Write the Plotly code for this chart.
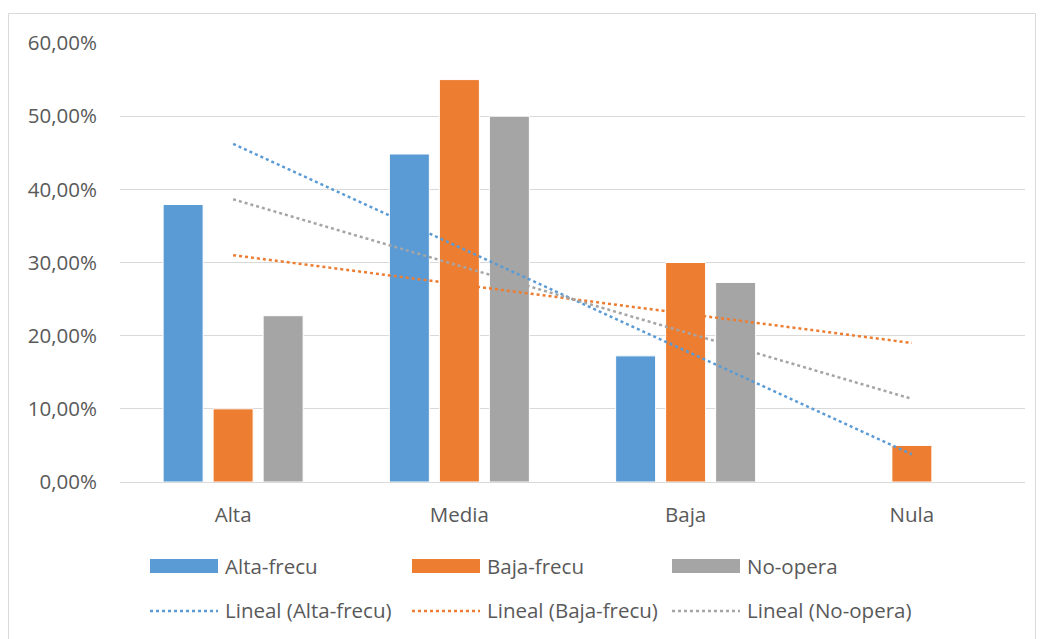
import numpy as np
import plotly.graph_objects as go

# Categories and series (fractions)
categories = ["Alta", "Media", "Baja", "Nula"]
alta_frecu = [0.3793, 0.4483, 0.1724, 0.0]
baja_frecu = [0.10, 0.55, 0.30, 0.05]
no_opera = [0.2273, 0.50, 0.2727, 0.0]
series_names = ["Alta-frecu", "Baja-frecu", "No-opera"]
colors = ["#5B9BD5", "#ED7D31", "#A5A5A5"]
y_ticks = [0, 0.1, 0.2, 0.3, 0.4, 0.5, 0.6]

W, H = 1041, 639
L, R, T, B = 120, 16, 43, 157
FONT = "'Open Sans', sans-serif"
FS = 20.5
TXT = "#595959"

fig = go.Figure()
series = [alta_frecu, baja_frecu, no_opera]
for name, vals, col in zip(series_names, series, colors):
    fig.add_trace(go.Bar(
        x=categories, y=vals, name=name,
        marker=dict(color=col, line=dict(color="white", width=1)),
        showlegend=False,
    ))

# Linear trendlines fitted over category index 1..n
idx = np.arange(1, len(categories) + 1)
for name, vals, col in zip(series_names, series, colors):
    slope, icpt = np.polyfit(idx, vals, 1)
    fig.add_trace(go.Scatter(
        x=categories, y=slope * idx + icpt, mode="lines",
        name=f"Lineal ({name})",
        line=dict(color=col, width=2.5, dash="dot"),
        showlegend=False,
    ))

fig.update_layout(
    width=W, height=H,
    margin=dict(l=L, r=R, t=T, b=B, autoexpand=False),
    paper_bgcolor="white", plot_bgcolor="white",
    separators=",.",
    barmode="group", bargap=0.337, bargroupgap=0.2,
    font=dict(family=FONT, size=FS, color=TXT),
)
fig.update_yaxes(
    range=[0, 0.6], tickvals=y_ticks, tickformat=".2%",
    showgrid=True, gridcolor="#D9D9D9", gridwidth=1,
    zeroline=True, zerolinecolor="#D9D9D9", zerolinewidth=1,
    showline=False, ticks="", ticklabelstandoff=22,
    tickfont=dict(family=FONT, size=FS, color=TXT),
)
fig.update_xaxes(
    showgrid=False, showline=False, ticks="", ticklabelstandoff=18,
    tickfont=dict(family=FONT, size=FS, color=TXT),
)

# Pixel -> paper helpers for the legend block and chart frame
def px(xp):
    return (xp - L) / (W - L - R)

def py(yp):
    return (H - B - yp) / (H - T - B)

shapes = [dict(type="rect", xref="paper", yref="paper",
               x0=px(8.5), x1=px(1035.5), y0=py(700), y1=py(13.5),
               line=dict(color="#D9D9D9", width=1), fillcolor="rgba(0,0,0,0)",
               layer="below")]
annotations = []
starts = [150, 412, 672]
for i, (name, col) in enumerate(zip(series_names, colors)):
    x0 = starts[i]
    shapes.append(dict(type="rect", xref="paper", yref="paper",
                       x0=px(x0), x1=px(x0 + 68), y0=py(573), y1=py(559),
                       fillcolor=col, line=dict(width=0)))
    annotations.append(dict(xref="paper", yref="paper", x=px(x0 + 73), y=py(566),
                            text=name, showarrow=False, xanchor="left",
                            yanchor="middle", font=dict(family=FONT, size=FS, color=TXT)))
    shapes.append(dict(type="line", xref="paper", yref="paper",
                       x0=px(x0), x1=px(x0 + 68), y0=py(611), y1=py(611),
                       line=dict(color=col, width=2.5, dash="dot")))
    annotations.append(dict(xref="paper", yref="paper", x=px(x0 + 73), y=py(610),
                            text=f"Lineal ({name})", showarrow=False, xanchor="left",
                            yanchor="middle", font=dict(family=FONT, size=FS, color=TXT)))

fig.update_layout(shapes=shapes, annotations=annotations)
fig.write_html("out.html")
